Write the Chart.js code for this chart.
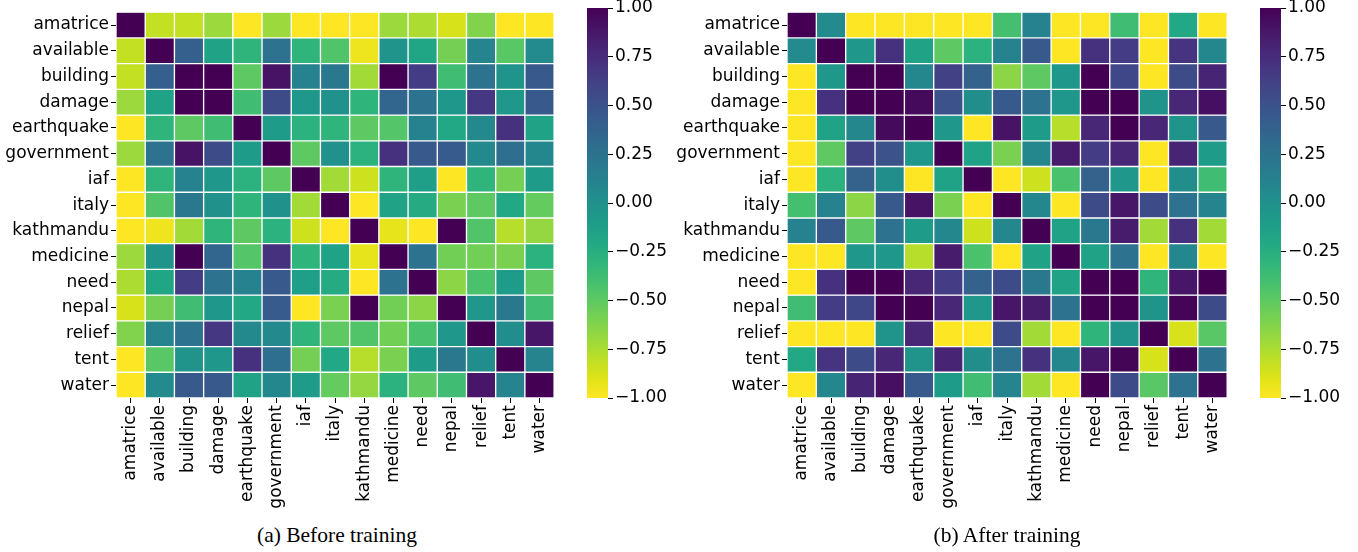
<!DOCTYPE html>
<html>
<head>
<meta charset="utf-8">
<script src="https://cdn.jsdelivr.net/npm/chart.js@4.4.1/dist/chart.umd.min.js"></script>
<style>
  body { margin: 0; background: #fff; width: 1358px; height: 552px; position: relative; overflow: hidden; }
  canvas { position: absolute; }
  .caption { position: absolute; top: 523px; width: 400px; line-height: 25px; text-align: center;
             font-family: "Liberation Serif", "Times New Roman", serif; font-size: 21.5px; color: #000; }
</style>
</head>
<body>
<canvas id="heatA" width="562" height="520" style="left:0;top:0"></canvas>
<canvas id="cbarA" width="95" height="430" style="left:587px;top:-12px"></canvas>
<canvas id="heatB" width="564" height="520" style="left:671px;top:0"></canvas>
<canvas id="cbarB" width="95" height="430" style="left:1260px;top:-12px"></canvas>
<div class="caption" style="left:137px">(a) Before training</div>
<div class="caption" style="left:807px">(b) After training</div>
<script>
const words = ['amatrice', 'available', 'building', 'damage', 'earthquake', 'government', 'iaf',
  'italy', 'kathmandu', 'medicine', 'need', 'nepal', 'relief', 'tent', 'water'];

// correlations, one row per word
const beforeTraining = [
  [1, -0.82, -0.82, -0.7, -1, -0.7, -1, -1, -1, -0.7, -0.75, -0.88, -0.62, -1, -1],
  [-0.82, 1, 0.4, -0.15, -0.3, 0.25, -0.3, -0.45, -0.95, -0.02, -0.18, -0.58, 0.1, -0.48, 0.05],
  [-0.82, 0.4, 1, 1, -0.5, 0.9, 0.12, 0.2, -0.72, 1, 0.65, -0.38, 0.25, -0.02, 0.45],
  [-0.7, -0.15, 1, 1, -0.38, 0.55, -0.05, 0, -0.3, 0.35, 0.25, -0.05, 0.68, -0.05, 0.45],
  [-1, -0.3, -0.5, -0.38, 1, -0.1, -0.28, -0.3, -0.5, -0.46, 0.12, -0.2, 0.06, 0.72, -0.15],
  [-0.7, 0.25, 0.9, 0.55, -0.1, 1, -0.5, 0, -0.28, 0.72, 0.45, 0.43, 0.06, 0.28, 0.08],
  [-1, -0.3, 0.12, -0.05, -0.28, -0.5, 1, -0.72, -0.85, -0.3, -0.12, -1, -0.3, -0.58, -0.1],
  [-1, -0.45, 0.2, 0, -0.3, 0, -0.72, 1, -1, -0.15, -0.22, -0.6, -0.5, -0.2, -0.52],
  [-1, -0.95, -0.72, -0.3, -0.5, -0.28, -0.85, -1, 1, -0.93, -1, 1, -0.45, -0.78, -0.68],
  [-0.7, -0.02, 1, 0.35, -0.46, 0.72, -0.3, -0.15, -0.93, 1, 0.25, -0.57, -0.57, -0.6, -0.28],
  [-0.75, -0.18, 0.65, 0.25, 0.12, 0.45, -0.12, -0.22, -1, 0.25, 1, -0.65, -0.42, -0.1, -0.5],
  [-0.88, -0.58, -0.38, -0.05, -0.2, 0.43, -1, -0.6, 1, -0.57, -0.65, 1, -0.05, 0.2, -0.38],
  [-0.62, 0.1, 0.25, 0.68, 0.06, 0.06, -0.3, -0.5, -0.45, -0.57, -0.42, -0.05, 1, 0.03, 0.88],
  [-1, -0.48, -0.02, -0.05, 0.72, 0.28, -0.58, -0.2, -0.78, -0.6, -0.1, 0.2, 0.03, 1, 0.1],
  [-1, 0.05, 0.45, 0.45, -0.15, 0.08, -0.1, -0.52, -0.68, -0.28, -0.5, -0.38, 0.88, 0.1, 1]
];

const afterTraining = [
  [1, 0.05, -1, -1, -1, -1, -1, -0.4, 0.12, -1, -1, -0.38, -1, -0.2, -1],
  [0.05, 1, -0.05, 0.72, -0.15, -0.5, -0.28, 0.12, 0.45, -1, 0.72, 0.65, -1, 0.7, 0.08],
  [-1, -0.05, 1, 1, 0.08, 0.62, 0.38, -0.65, -0.5, -0.05, 1, 0.58, -1, 0.55, 0.8],
  [-1, 0.72, 1, 1, 0.95, 0.5, 0.02, 0.45, 0.25, -0.05, 1, 1, -0.02, 0.78, 0.92],
  [-1, -0.15, 0.08, 0.95, 1, -0.05, -1, 0.9, -0.1, -0.78, 0.78, 1, 0.78, -0.02, 0.45],
  [-1, -0.5, 0.62, 0.5, -0.05, 1, -0.15, -0.6, 0.08, 0.85, 0.65, 0.78, -1, 0.8, -0.1],
  [-1, -0.28, 0.38, 0.02, -1, -0.15, 1, -1, -0.85, -0.42, 0.38, -0.05, -1, 0.02, -0.38],
  [-0.4, 0.12, -0.65, 0.45, 0.9, -0.6, -1, 1, 0.08, -1, 0.55, 0.88, 0.55, 0.25, 0.1],
  [0.12, 0.45, -0.5, 0.25, -0.1, 0.08, -0.85, 0.08, 1, -0.15, 0.2, 0.85, -0.72, 0.72, -0.72],
  [-1, -1, -0.05, -0.05, -0.78, 0.85, -0.42, -1, -0.15, 1, -0.15, 0.25, -1, 0.08, -1],
  [-1, 0.72, 1, 1, 0.78, 0.65, 0.38, 0.55, 0.2, -0.15, 1, 1, -0.3, 0.88, 1],
  [-0.38, 0.65, 0.58, 1, 1, 0.78, -0.05, 0.88, 0.85, 0.25, 1, 1, -0.02, 0.98, 0.55],
  [-1, -1, -1, -0.02, 0.78, -1, -1, 0.55, -0.72, -1, -0.3, -0.02, 1, -0.88, -0.48],
  [-0.2, 0.7, 0.55, 0.78, -0.02, 0.8, 0.02, 0.25, 0.72, 0.08, 0.88, 0.98, -0.88, 1, 0.25],
  [-1, 0.08, 0.8, 0.92, 0.45, -0.1, -0.38, 0.1, -0.72, -1, 1, 0.55, -0.48, 0.25, 1]
];

const cbarTicks = [-1, -0.75, -0.5, -0.25, 0, 0.25, 0.5, 0.75, 1];

// viridis, purple -> yellow (reversed when used so that -1 is yellow)
const viridis = ['#440154', '#471365', '#482475', '#463480', '#414487', '#3b528b', '#355f8d',
  '#2f6c8e', '#2a788e', '#25848e', '#21918c', '#1e9c89', '#22a884', '#2fb47c', '#44bf70',
  '#5ec962', '#7ad151', '#9bd93c', '#bddf26', '#dfe318', '#fde725'];

const hexRgb = h => [1, 3, 5].map(i => parseInt(h.substr(i, 2), 16));

function viridisR(v) {
  const t = Math.min(Math.max((1 - v) / 2, 0), 1) * (viridis.length - 1);
  const i = Math.min(Math.floor(t), viridis.length - 2);
  const f = t - i;
  const a = hexRgb(viridis[i]), b = hexRgb(viridis[i + 1]);
  const c = a.map((x, k) => Math.round(x + (b[k] - x) * f));
  return `rgb(${c[0]},${c[1]},${c[2]})`;
}

const labelFont = { family: 'DejaVu Sans', size: 17 };
const tickGrid = { display: true, drawOnChartArea: false, tickLength: 5, tickWidth: 1, tickColor: '#000' };

function heatmap(id, matrix) {
  return new Chart(document.getElementById(id), {
    type: 'bar',
    data: {
      labels: words,
      datasets: matrix.map((row, r) => ({
        data: row.map(() => [r, r + 1]),
        backgroundColor: row.map(viridisR),
        borderColor: '#fff',
        borderWidth: 1,
        borderSkipped: false,
        grouped: false,
        barPercentage: 1,
        categoryPercentage: 1
      }))
    },
    options: {
      responsive: false,
      animation: false,
      layout: { padding: { top: 8, right: 3, left: 0, bottom: 0 } },
      plugins: { legend: { display: false }, tooltip: { enabled: false } },
      scales: {
        x: {
          type: 'category',
          offset: true,
          border: { display: false },
          grid: { ...tickGrid, offset: false },
          ticks: { autoSkip: false, minRotation: 90, maxRotation: 90, padding: 2, color: '#000', font: labelFont },
          afterFit: s => { s.height = 122; }
        },
        y: {
          type: 'linear',
          min: 0,
          max: 15,
          reverse: true,
          border: { display: false },
          grid: tickGrid,
          afterBuildTicks: s => { s.ticks = words.map((w, i) => ({ value: i + 0.5 })); },
          ticks: { autoSkip: false, padding: 2, color: '#000', font: labelFont,
                   callback: v => words[Math.round(v - 0.5)] },
          afterFit: s => { s.width = 116; }
        }
      }
    }
  });
}

function colorbar(id) {
  return new Chart(document.getElementById(id), {
    type: 'bar',
    data: {
      labels: [''],
      datasets: [{
        data: [[-1, 1]],
        borderWidth: 0,
        barPercentage: 1,
        categoryPercentage: 1,
        backgroundColor: c => {
          const { chart } = c;
          if (!chart.chartArea) return '#21918c';
          const y = chart.scales.y;
          const g = chart.ctx.createLinearGradient(0, y.getPixelForValue(1), 0, y.getPixelForValue(-1));
          viridis.forEach((col, i) => g.addColorStop(i / (viridis.length - 1), col));
          return g;
        }
      }]
    },
    options: {
      responsive: false,
      animation: false,
      layout: { padding: { top: 20, bottom: 20, left: 0, right: 0 } },
      plugins: { legend: { display: false }, tooltip: { enabled: false } },
      scales: {
        x: { display: false },
        y: {
          position: 'right',
          min: -1,
          max: 1,
          border: { display: false },
          grid: tickGrid,
          afterBuildTicks: s => { s.ticks = cbarTicks.map(v => ({ value: v })); },
          ticks: { padding: 2, color: '#000', font: labelFont,
                   callback: v => v.toFixed(2).replace('-', '\u2212') },
          afterFit: s => { s.width = 74; }
        }
      }
    }
  });
}

heatmap('heatA', beforeTraining);
colorbar('cbarA');
heatmap('heatB', afterTraining);
colorbar('cbarB');
</script>
</body>
</html>
